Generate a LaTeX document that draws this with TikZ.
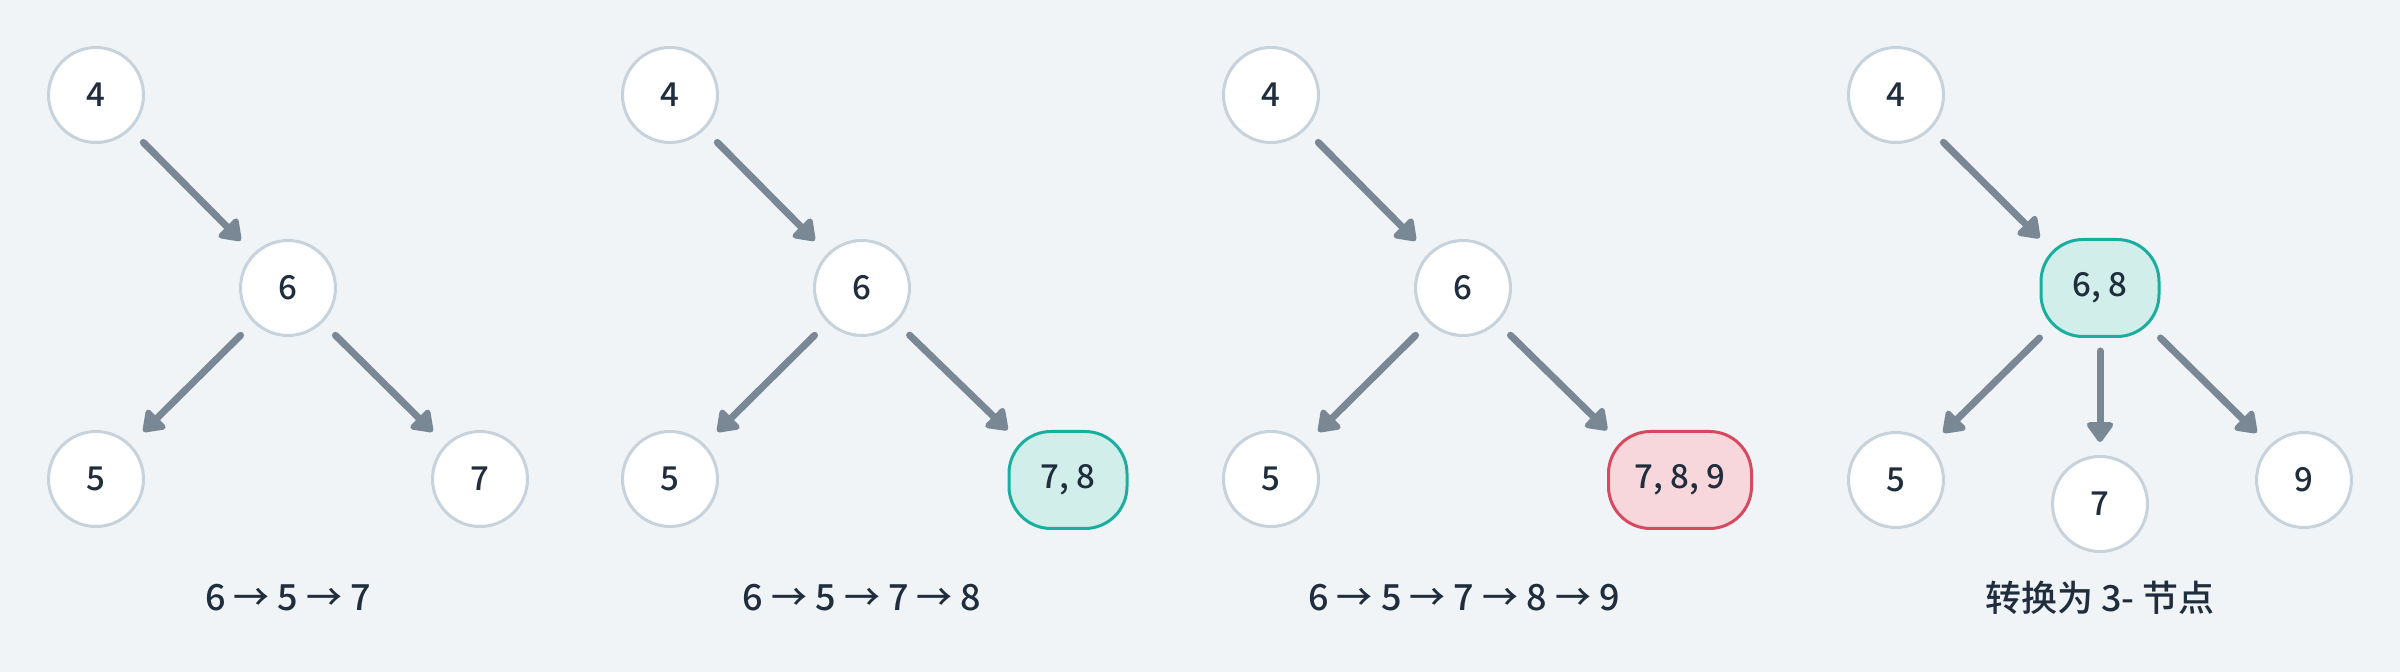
\documentclass[tikz,border=0pt]{standalone}
\usepackage{fontspec}
\setmainfont{Noto Sans CJK SC Medium}
\usetikzlibrary{arrows.meta}
\definecolor{bgc}{HTML}{F0F4F7}
\definecolor{ringc}{HTML}{C6D2DC}
\definecolor{arrc}{HTML}{7A8896}
\definecolor{txtc}{HTML}{1F2D3D}
\definecolor{tealc}{HTML}{1AAE9F}
\definecolor{tealf}{HTML}{D1EEEB}
\definecolor{redc}{HTML}{D64A60}
\definecolor{redf}{HTML}{F8D7DC}
\tikzset{
  circ/.style={circle, draw=ringc, fill=white, line width=1.5pt, minimum size=47.5pt, inner sep=0pt,
    text=txtc, font=\fontsize{16.5}{20}\selectfont},
  kbox/.style={rectangle, rounded corners=21pt, line width=1.5pt, minimum width=59pt, minimum height=48.5pt,
    inner sep=0pt, text=txtc, font=\fontsize{16.5}{20}\selectfont},
  tealbox/.style={kbox, draw=tealc, fill=tealf},
  redbox/.style={kbox, draw=redc, fill=redf, minimum width=71.5pt},
  captext/.style={text=txtc, font=\fontsize{18}{22}\selectfont},
  arr/.style={draw=arrc, line width=3.5pt, line cap=round, -{Triangle[length=11pt,width=15pt,round]}},
  gap/.style={arr, shorten <=9pt, shorten >=9pt},
  gapstart/.style={arr, shorten <=9pt},
  gapend/.style={arr, shorten >=9pt}
}
\begin{document}
\begin{tikzpicture}[x=0.5pt, y=-0.5pt]
\fill[bgc] (0,0) rectangle (2400,672);
\useasboundingbox (0,0) rectangle (2400,672);
% panel 1
\node[circ] (a4) at (96,95) {4};
\node[circ] (a6) at (288,288) {6};
\node[circ] (a5) at (96,479) {5};
\node[circ] (a7) at (480,479) {7};
\node[captext] (acap) at (288,598) {6 → 5 → 7};
\draw[gap] (a4.-45) -- (a6.135);
\draw[gap] (a6.-135) -- (a5.45);
\draw[gap] (a6.-45) -- (a7.135);
% panel 2
\node[circ] (b4) at (670,95) {4};
\node[circ] (b6) at (862,288) {6};
\node[circ] (b5) at (670,479) {5};
\node[tealbox] (b78) at (1068,480) {7, 8};
\node[captext] (bcap) at (862,598) {6 → 5 → 7 → 8};
\draw[gap] (b4.-45) -- (b6.135);
\draw[gap] (b6.-135) -- (b5.45);
\draw[gapstart] (b6.-45) -- (b78.north west);
% panel 3
\node[circ] (c4) at (1271,95) {4};
\node[circ] (c6) at (1463,288) {6};
\node[circ] (c5) at (1271,479) {5};
\node[redbox] (c789) at (1680,480) {7, 8, 9};
\node[captext] (ccap) at (1464,598) {6 → 5 → 7 → 8 → 9};
\draw[gap] (c4.-45) -- (c6.135);
\draw[gap] (c6.-135) -- (c5.45);
\draw[gapstart] (c6.-45) -- (c789.north west);
% panel 4
\node[circ] (d4) at (1896,95) {4};
\node[tealbox] (d68) at (2100,288) {6, 8};
\node[circ] (d5) at (1896,480) {5};
\node[circ] (d7) at (2100,504) {7};
\node[circ] (d9) at (2304,480) {9};
\node[captext] (dcap) at (2100,598) {转换为 3- 节点};
\draw[gapstart] (d4.-45) -- (d68.north west);
\draw[gapend] (d68.south west) -- (d5.45);
\draw[arr, shorten <=6.5pt, shorten >=6.5pt] (d68.south) -- (d7.north);
\draw[gapend] (d68.south east) -- (d9.135);
\end{tikzpicture}
\end{document}
